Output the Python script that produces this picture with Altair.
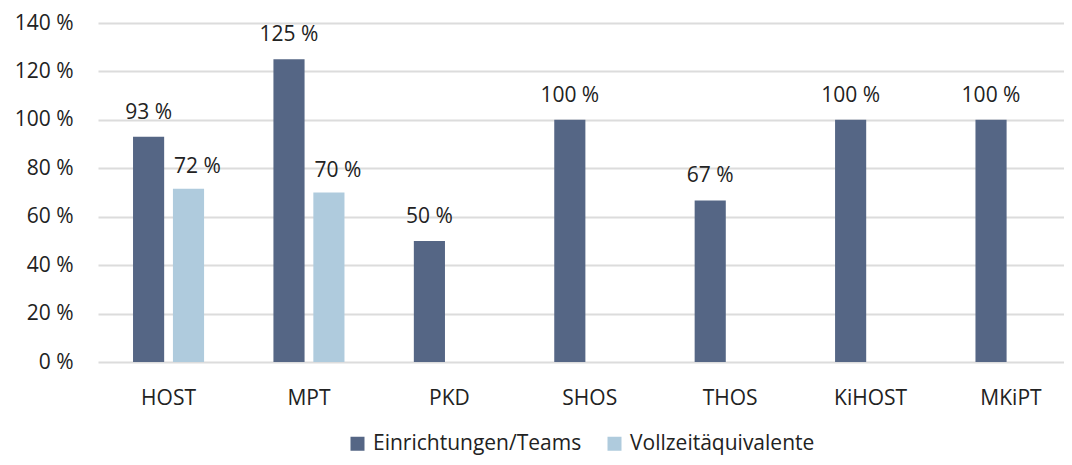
import altair as alt
import pandas as pd

categories = ["HOST", "MPT", "PKD", "SHOS", "THOS", "KiHOST", "MKiPT"]
series_names = ["Einrichtungen/Teams", "Vollzeitäquivalente"]
einrichtungen = [93, 125, 50, 100, 66.7, 100, 100]
einrichtungen_labels = ["93 %", "125 %", "50 %", "100 %", "67 %", "100 %", "100 %"]
vze_categories = ["HOST", "MPT"]
vze = [71.5, 70]
vze_labels = ["72 %", "70 %"]
y_ticks = [0, 20, 40, 60, 80, 100, 120, 140]
colors = ["#556685", "#AFCBDD"]

rows = []
for c, v, l in zip(categories, einrichtungen, einrichtungen_labels):
    rows.append({"cat": c, "series": series_names[0], "value": v, "label": l})
for c, v, l in zip(vze_categories, vze, vze_labels):
    rows.append({"cat": c, "series": series_names[1], "value": v, "label": l})
df = pd.DataFrame(rows)

FONT = "Open Sans"
FS = 21
TXT = "#222222"

x = alt.X("cat:N", sort=categories, title=None,
          scale=alt.Scale(paddingInner=0.494, paddingOuter=0.187, align=0.667),
          axis=alt.Axis(labelAngle=0, labelFontSize=FS, labelFont=FONT, labelColor=TXT,
                        domain=False, ticks=False, labelPadding=25))
xo = alt.XOffset("series:N", sort=series_names,
                 scale=alt.Scale(domain=series_names, paddingInner=0.22, paddingOuter=0))
y = alt.Y("value:Q", title=None,
          scale=alt.Scale(domain=[0, 140], nice=False),
          axis=alt.Axis(values=y_ticks, labelExpr="datum.value + ' %'", labelFontSize=FS,
                        labelFont=FONT, labelColor=TXT, domain=False, ticks=False,
                        labelPadding=25, grid=True, gridColor="#dcdcdc", gridWidth=2))

bars = alt.Chart(df).mark_bar().encode(
    x=x, xOffset=xo, y=y,
    color=alt.Color("series:N", sort=series_names,
                    scale=alt.Scale(domain=series_names, range=colors),
                    legend=alt.Legend(title=None, orient="none", direction="horizontal",
                                      legendX=249, legendY=410, symbolType="square",
                                      symbolSize=196, symbolStrokeWidth=0,
                                      labelFontSize=FS, labelFont=FONT, labelColor=TXT,
                                      labelLimit=400, columnPadding=22, labelOffset=5)),
)

text_dark = alt.Chart(df).transform_filter(alt.datum.series == series_names[0]).mark_text(
    dy=-18, baseline="alphabetic", fontSize=FS, font=FONT, color=TXT
).encode(x=x, xOffset=xo, y=y, text="label:N")

text_light = alt.Chart(df).transform_filter(alt.datum.series == series_names[1]).mark_text(
    dy=-16, dx=9, baseline="alphabetic", fontSize=FS, font=FONT, color=TXT
).encode(x=x, xOffset=xo, y=y, text="label:N")

chart = alt.layer(bars, text_dark, text_light).properties(
    width=966, height=339,
    autosize=alt.AutoSizeParams(type="none"),
    padding={"left": 90, "top": 15, "right": 0, "bottom": 95},
).configure_view(stroke=None)

chart.save("out.html", embed_options={"renderer": "svg", "actions": False})
